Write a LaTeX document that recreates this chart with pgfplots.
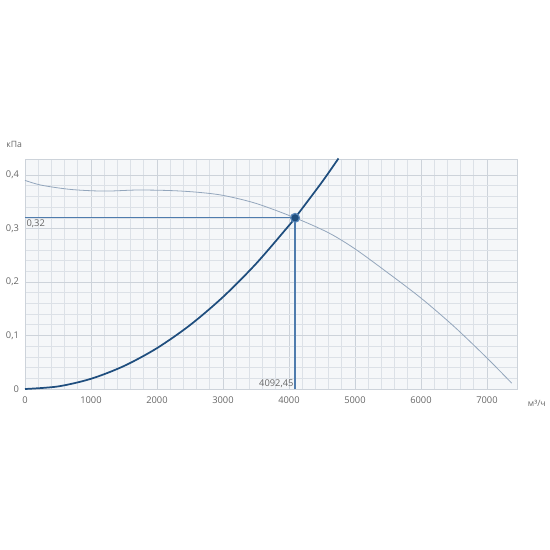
\documentclass[border=0pt]{standalone}
\usepackage{fontspec}
\setmainfont{Open Sans}
\usepackage{pgfplots}
\pgfplotsset{compat=1.18}
\definecolor{sysc}{HTML}{1F4E7E}
\definecolor{fanc}{HTML}{93A6BC}
\definecolor{opc}{HTML}{4F7CAD}
\definecolor{ringc}{HTML}{5A88BA}
\definecolor{gridc}{HTML}{DCE1E7}
\definecolor{gridmaj}{HTML}{CDD3DA}
\definecolor{bgc}{HTML}{F5F7F9}
\definecolor{txtc}{HTML}{666666}
\begin{document}
\begin{tikzpicture}
\begin{axis}[
  name=ax,
  scale only axis,
  width=369pt, height=172.5pt,
  xmin=0, xmax=7455, ymin=0, ymax=0.43,
  axis background/.style={fill=bgc},
  axis line style={draw=gridmaj},
  tick style={draw=none},
  xtick={0,1000,2000,3000,4000,5000,6000,7000},
  xticklabels={0,1000,2000,3000,4000,5000,6000,7000},
  ytick={0,0.1,0.2,0.3,0.4},
  yticklabels={0,{0,1},{0,2},{0,3},{0,4}},
  minor x tick num=4,
  minor y tick num=4,
  grid=both,
  major grid style={draw=gridmaj, line width=0.5pt},
  minor grid style={draw=gridc, line width=0.5pt},
  /pgf/number format/assume math mode=true,
  tick label style={font=\fontsize{7}{8}\selectfont, text=txtc},
  xticklabel style={yshift=-2pt},
  yticklabel style={xshift=-1pt},
  clip=false,
]
% fan curve
\addplot[fanc, line width=0.6pt, smooth, tension=0.5] coordinates {
 (0,0.390) (250,0.381) (700,0.373) (1200,0.370) (1700,0.372) (2200,0.371)
 (2600,0.368) (3000,0.362) (3500,0.347) (4092.45,0.320)
 (4600,0.292) (5000,0.262) (5500,0.217) (6000,0.170)
 (6500,0.117) (7000,0.058) (7374,0.011)
};
% system curve
\addplot[sysc, line width=1.3pt, smooth] coordinates {
 (0,0) (500,0.00478) (1000,0.0191) (1500,0.0430) (2000,0.0764)
 (2500,0.1194) (3000,0.1720) (3500,0.2341) (4000,0.3057)
 (4092.45,0.32) (4500,0.3869) (4750,0.4311)
};
% operating point lines
\addplot[opc, line width=0.9pt] coordinates {(0,0.32) (4092.45,0.32)};
\addplot[opc, line width=0.9pt] coordinates {(4092.45,0) (4092.45,0.32)};
\addplot[only marks, mark=*, mark size=3.3pt, mark options={fill=sysc, draw=ringc, line width=0.9pt}] coordinates {(4092.45,0.32)};
\node[anchor=north west, font=\fontsize{7}{8}\selectfont, text=txtc, inner sep=1pt] at (axis cs:0,0.32) {0,32};
\node[anchor=south east, font=\fontsize{7}{8}\selectfont, text=txtc, inner sep=1pt] at (axis cs:4092.45,0) {4092,45};
\node[anchor=south east, font=\fontsize{6.5}{8}\selectfont, text=txtc, inner sep=0pt] at ([shift={(-2pt,8pt)}]rel axis cs:0,1) {кПа};
\node[anchor=west, font=\fontsize{6.5}{8}\selectfont, text=txtc, inner sep=0pt] at ([shift={(8pt,-10.5pt)}]rel axis cs:1,0) {м³/ч};
\end{axis}
\path (ax.south west) ++(-18.75pt,-120.75pt) rectangle ++(412.5pt,412.5pt);
\end{tikzpicture}
\end{document}
